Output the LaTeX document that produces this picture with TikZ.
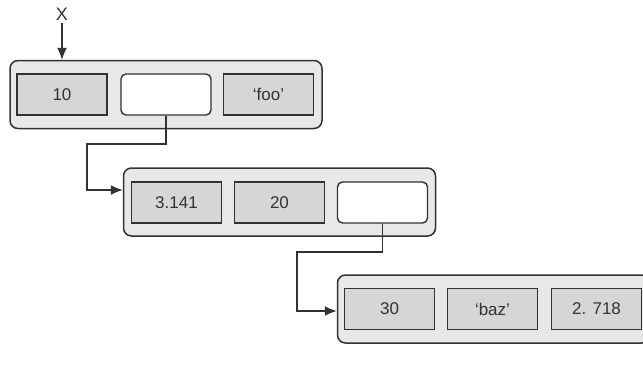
\documentclass[tikz,border=0pt]{standalone}
\usepackage{fontspec}
\setmainfont{Liberation Sans}
\usepackage{xcolor}
\usepackage{tikz}
\usetikzlibrary{arrows.meta,positioning,calc}
\definecolor{framegray}{RGB}{232,232,232}
\definecolor{cellgray}{RGB}{214,214,214}
\definecolor{inkgray}{RGB}{50,50,50}
\tikzset{
  tuple/.style={rectangle, rounded corners=4pt, draw=inkgray, line width=0.75pt, fill=framegray, minimum width=156pt, minimum height=34pt},
  cell/.style={rectangle, draw=inkgray, line width=0.7pt, fill=cellgray, minimum width=45pt, minimum height=20.5pt, font=\fontsize{8.5}{10}\selectfont, text=inkgray},
  ref/.style={cell, fill=white, rounded corners=2.5pt}, % slot holding a reference
  link/.style={-{Latex[length=6pt,width=5pt]}, line width=0.65pt, draw=inkgray}
}

\begin{document}
\begin{tikzpicture}[x=0.5pt, y=-0.5pt]
  \useasboundingbox (0,0) rectangle (643,380);
  \clip (0,0) rectangle (643,380);

  % first tuple
  \node[tuple] (tupA) at (166,94.5) {};
  \node[cell] (a1) at (62,94.5)  {10};
  \node[ref]  (a2) at (166,94.5) {};
  \node[cell] (a3) at (268.5,94.5) {`foo'};

  % second tuple
  \node[tuple] (tupB) at (279.5,202) {};
  \node[cell] (b1) at (176.5,202.5) {3.141};
  \node[cell] (b2) at (279.5,202.5) {20};
  \node[ref]  (b3) at (382.5,202.5) {};

  % third tuple
  \node[tuple] (tupC) at (493.5,309) {};
  \node[cell] (c1) at (389.5,309) {30};
  \node[cell] (c2) at (492.5,309) {`baz'};
  \node[cell] (c3) at (596.5,309) {2. 718};

  % variable name
  \node[font=\fontsize{9}{10}\selectfont, text=inkgray, inner sep=1pt] (x) at (62,14) {X};
  \draw[link] (x.south) -- (x.south |- tupA.north);

  % references (elbow connectors)
  \coordinate (bendA) at (87,144);
  \coordinate (bendB) at (297,252);
  \draw[link] (a2.south) |- (bendA) |- ([yshift=6pt]tupB.west);
  \draw[link] (b3.south) |- (bendB) |- ([yshift=-1pt]tupC.west);
\end{tikzpicture}
\end{document}
